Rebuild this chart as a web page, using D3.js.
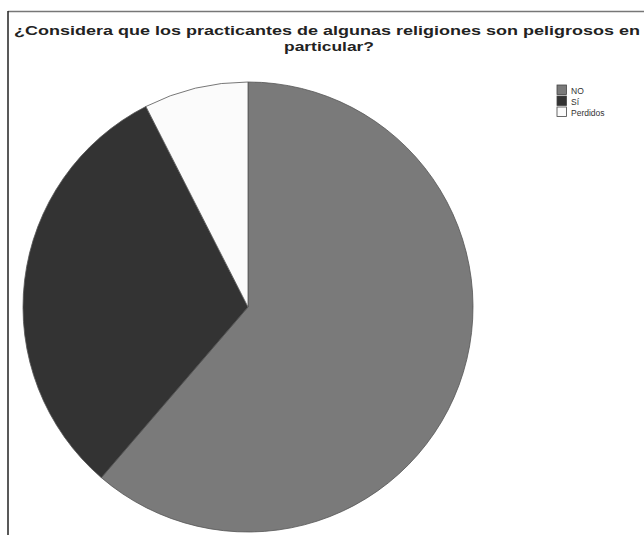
<!DOCTYPE html>
<html>
<head>
<meta charset="utf-8">
<script src="https://cdn.jsdelivr.net/npm/d3@7"></script>
<style>
html,body{margin:0;padding:0;background:#fff;}
svg{display:block;}
</style>
</head>
<body>
<svg id="chart" width="644" height="535"></svg>
<script>
const categories = ["NO", "Sí", "Perdidos"];
const values = [61.3, 31.2, 7.5];
const colors = ["#7a7a7a", "#333333", "#fbfbfb"];
const titleLines = ["¿Considera que los practicantes de algunas religiones son peligrosos en", "particular?"];

const svg = d3.select("#chart");

// frame
svg.append("line").attr("x1", 8).attr("x2", 644).attr("y1", 11.5).attr("y2", 11.5)
  .attr("stroke", "#777").attr("stroke-width", 1.5);
svg.append("line").attr("x1", 8).attr("x2", 8).attr("y1", 11).attr("y2", 535)
  .attr("stroke", "#222").attr("stroke-width", 1.5);

// title
const title = svg.append("g").attr("font-family", "Liberation Sans, Arial, sans-serif")
  .attr("font-weight", "bold").attr("font-size", 13).attr("fill", "#222").attr("text-anchor", "middle");
title.append("text").attr("x", 327).attr("y", 35).text(titleLines[0])
  .attr("textLength", 626).attr("lengthAdjust", "spacingAndGlyphs");
title.append("text").attr("x", 329).attr("y", 51).text(titleLines[1])
  .attr("textLength", 90).attr("lengthAdjust", "spacingAndGlyphs");

// pie
const cx = 248, cy = 307, r = 225;
const pie = d3.pie().sort(null).value(d => d)(values);
const arc = d3.arc().innerRadius(0).outerRadius(r);
const color = d3.scaleOrdinal().domain(categories).range(colors);
svg.append("g").attr("transform", `translate(${cx},${cy})`)
  .selectAll("path").data(pie).join("path")
  .attr("d", arc)
  .attr("fill", (d, i) => color(categories[i]))
  .attr("stroke", "#555").attr("stroke-width", 0.8);

// legend
const lg = svg.append("g").attr("transform", "translate(557,85)");
const items = lg.selectAll("g").data(categories).join("g")
  .attr("transform", (d, i) => `translate(0,${i * 11})`);
items.append("rect").attr("width", 9.5).attr("height", 9.5)
  .attr("fill", d => color(d)).attr("stroke", "#444").attr("stroke-width", 0.8);
items.append("text").attr("x", 14).attr("y", 8.5)
  .attr("font-family", "Liberation Sans, Arial, sans-serif").attr("font-size", 8.5).attr("fill", "#333")
  .text(d => d);
</script>
</body>
</html>
